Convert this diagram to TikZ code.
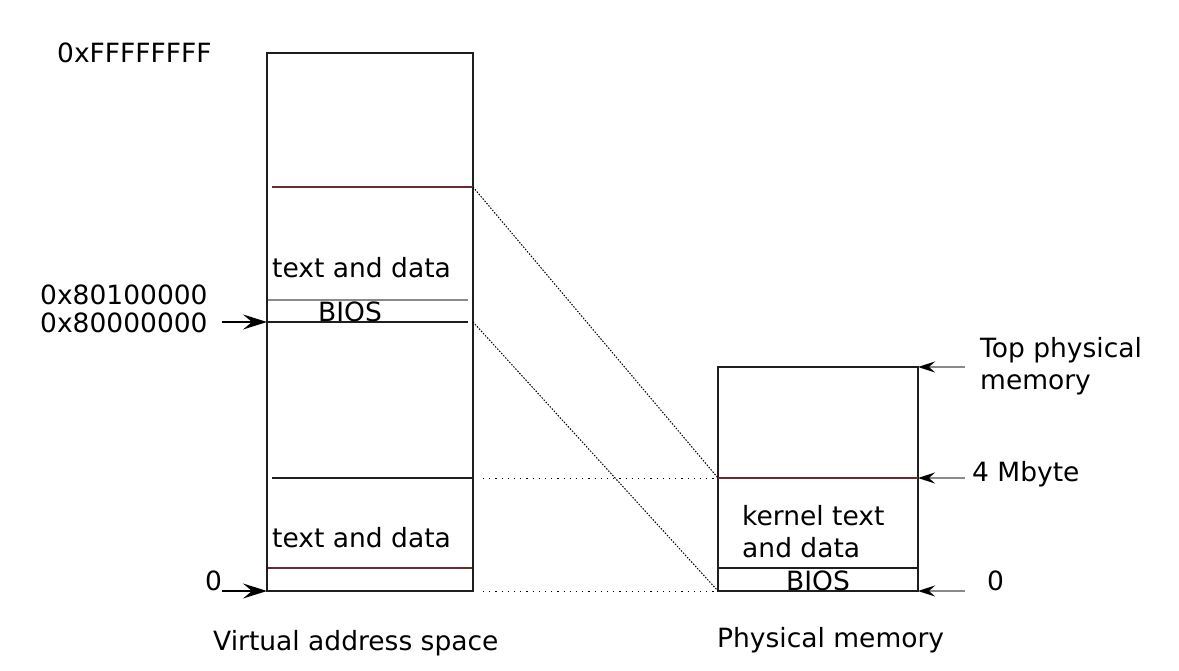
\documentclass[tikz,border=0pt]{standalone}
\usepackage{fontspec}
\setmainfont{DejaVu Sans}
\usetikzlibrary{arrows.meta}
\definecolor{edge}{HTML}{1E1E1E}
\definecolor{mapline}{HTML}{6A2B2E}
\definecolor{softline}{HTML}{8A8A8A}
\tikzset{
  region/.style={draw=edge, line width=2.5pt},
  split/.style={draw=edge, line width=1.5pt},
  redsplit/.style={draw=mapline, line width=1.5pt},
  greysplit/.style={draw=softline, line width=1.8pt},
  mapping/.style={draw=black, line width=1pt, dash pattern=on 1.5pt off 1.5pt},
  levelmark/.style={draw=black, line width=1pt, dash pattern=on 1.2pt off 5pt},
  addrin/.style={draw=black, line width=1.8pt, -{Stealth[length=24pt, width=15pt, inset=9pt]}},
  physin/.style={draw=softline, line width=1.8pt, -{Stealth[length=17pt, width=11pt, inset=6pt, color=black]}},
  lbl/.style={font=\fontsize{26.5}{30}\selectfont, inner sep=0pt, anchor=base west, text=black}
}
\begin{document}
\begin{tikzpicture}[x=1pt, y=-1pt]
\useasboundingbox (0,0) rectangle (1179,671);
\fill[white] (0,0) rectangle (1179,671);

% corners of the two memory columns
\coordinate (vTL) at (267,53);
\coordinate (vBR) at (473,591);
\coordinate (pTL) at (718,367);
\coordinate (pBR) at (918,591);

% virtual address space
\draw[region] (vTL) rectangle (vBR);
\coordinate (vHiL) at (272,187);   \coordinate (vHiR) at (473,187);
\coordinate (vBiosL) at (268,300); \coordinate (vBiosR) at (468,300);
\coordinate (vKernL) at (268,322); \coordinate (vKernR) at (468,322);
\coordinate (vMidL) at (272,478);  \coordinate (vMidR) at (473,478);
\coordinate (vLowL) at (268,568);  \coordinate (vLowR) at (472,568);
\draw[redsplit] (vHiL) -- (vHiR);
\draw[greysplit] (vBiosL) -- (vBiosR);
\draw[split] (vKernL) -- (vKernR);
\draw[split] (vMidL) -- (vMidR);
\draw[redsplit] (vLowL) -- (vLowR);

% physical memory
\draw[region] (pTL) rectangle (pBR);
\coordinate (p4mL) at (718,478);   \coordinate (p4mR) at (918,478);
\coordinate (pBiosL) at (718,568); \coordinate (pBiosR) at (918,568);
\coordinate (pZeroL) at (718,591); \coordinate (pTopR) at (918,367);
\coordinate (pZeroR) at (918,591);
\draw[redsplit] (p4mL) -- (p4mR);
\draw[split] (pBiosL) -- (pBiosR);

% mappings between the two spaces
\coordinate (vHiE) at (473,187);
\coordinate (vKernE) at (473,322);
\draw[mapping] (vHiE) -- (p4mL);
\draw[mapping] (vKernE) -- (pZeroL);
\coordinate (dotA1) at (483,478); \coordinate (dotA2) at (714,478);
\coordinate (dotB1) at (483,591); \coordinate (dotB2) at (714,591);
\draw[levelmark] (dotA1) -- (dotA2);
\draw[levelmark] (dotB1) -- (dotB2);

% address arrows
\coordinate (aKern) at (222,322);
\coordinate (aZero) at (222,591);
\coordinate (vKern) at (267,322);
\coordinate (vZero) at (267,591);
\draw[addrin] (aKern) -- (vKern);
\draw[addrin] (aZero) -- (vZero);
\coordinate (rTop) at (965,367);
\coordinate (r4m) at (965,478);
\coordinate (rZero) at (965,591);
\draw[physin] (rTop) -- (pTopR);
\draw[physin] (r4m) -- (p4mR);
\draw[physin] (rZero) -- (pZeroR);

% labels
\node[lbl] (tFFFF) at (57,63) {0xFFFFFFFF};
\node[lbl] (t8010) at (40,305) {0x80100000};
\node[lbl] (t8000) at (40,333) {0x80000000};
\node[lbl] (tZeroV) at (205,590) {0};
\node[lbl] (tTextHi) at (272,278) {text and data};
\node[lbl] (tBiosV) at (318,322) {BIOS};
\node[lbl] (tTextLo) at (272,547) {text and data};
\node[lbl] (tVirt) at (213,650) {Virtual address space};
\node[lbl] (tPhys) at (717,647) {Physical memory};
\node[lbl] (tTop1) at (980,357) {Top physical};
\node[lbl] (tTop2) at (980,389) {memory};
\node[lbl] (t4m) at (972,481) {4 Mbyte};
\node[lbl] (tZeroP) at (987,590) {0};
\node[lbl] (tKern1) at (742,525) {kernel text};
\node[lbl] (tKern2) at (742,557) {and data};
\node[lbl] (tBiosP) at (786,590) {BIOS};
\end{tikzpicture}
\end{document}
